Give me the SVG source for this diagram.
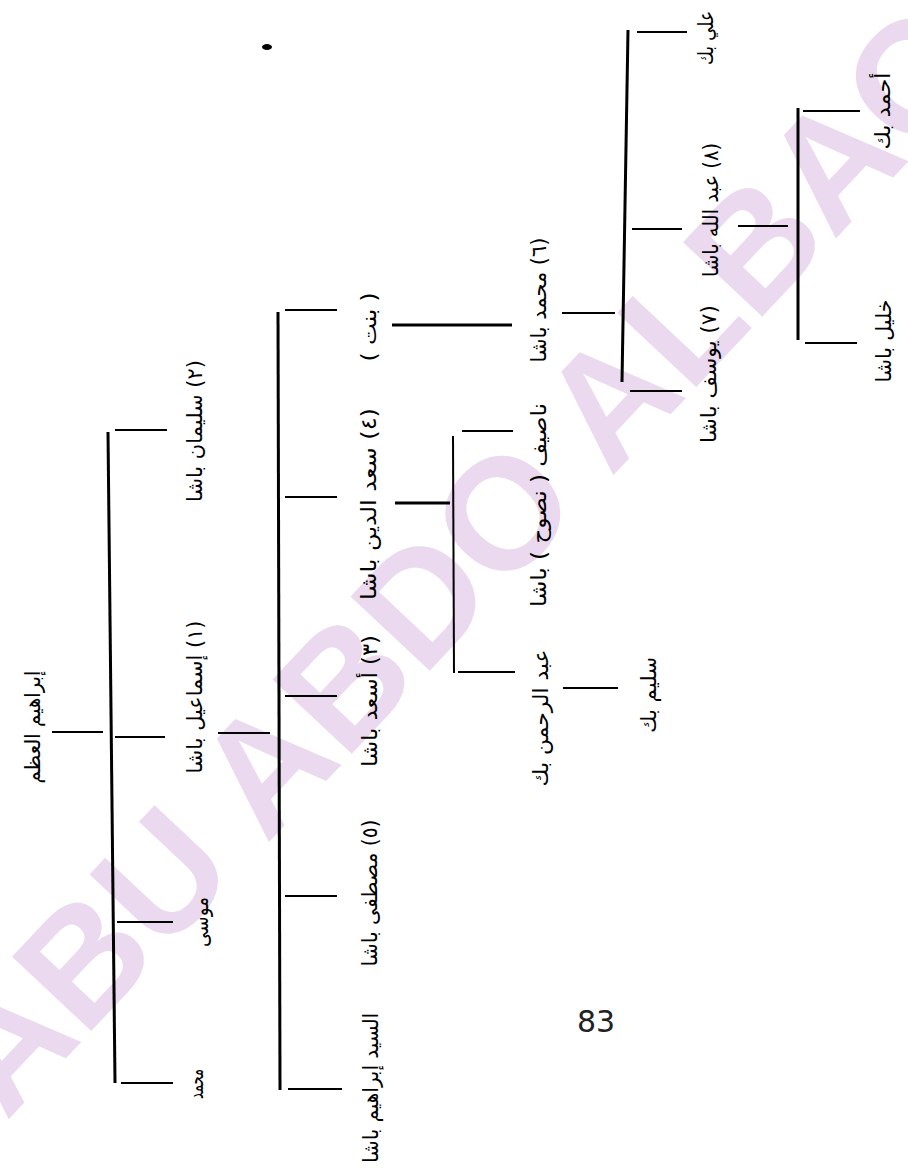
<svg xmlns="http://www.w3.org/2000/svg" width="908" height="1173" viewBox="0 0 908 1173">
<style>
.wm{font-family:"Liberation Sans",Arial,sans-serif;font-weight:bold;font-size:158px;fill:#ebdaef}
.lbl{font-family:"DejaVu Sans","Noto Sans",sans-serif;font-size:21px;fill:#000}
.ln{stroke:#000;stroke-width:2;fill:none}
.lv{stroke:#000;stroke-width:3;fill:none}
.pg{font-family:"DejaVu Sans",sans-serif;font-size:30px;fill:#222}
</style>
<rect width="908" height="1173" fill="#fff"/>
<text class="wm" transform="translate(6,1122) rotate(-46.8)">ABU ABDO ALBAQMI</text>
<ellipse cx="267" cy="47" rx="5" ry="3" fill="#000"/>
<g id="connectors">
<line class="ln" x1="52" y1="732" x2="103" y2="732"/>
<line class="lv" x1="108" y1="432" x2="115" y2="1083"/>
<line class="ln" x1="115" y1="430" x2="167" y2="430"/>
<line class="ln" x1="115" y1="737" x2="165" y2="737"/>
<line class="ln" x1="117" y1="922" x2="173" y2="922"/>
<line class="ln" x1="121" y1="1083" x2="173" y2="1083"/>
<line class="ln" x1="218" y1="733" x2="270" y2="733"/>
<line class="lv" x1="278" y1="312" x2="280" y2="1090"/>
<line class="ln" x1="285" y1="310" x2="337" y2="310"/>
<line class="ln" x1="285" y1="497" x2="337" y2="497"/>
<line class="ln" x1="285" y1="696" x2="337" y2="696"/>
<line class="ln" x1="285" y1="896" x2="337" y2="896"/>
<line class="ln" x1="288" y1="1089" x2="342" y2="1089"/>
<line class="lv" x1="392" y1="325" x2="512" y2="325"/>
<line class="lv" x1="395" y1="503" x2="450" y2="503"/>
<line class="ln" x1="453" y1="436" x2="454" y2="673"/>
<line class="ln" x1="462" y1="431" x2="513" y2="431"/>
<line class="ln" x1="458" y1="672" x2="515" y2="672"/>
<line class="ln" x1="563" y1="688" x2="618" y2="688"/>
<line class="ln" x1="562" y1="313" x2="615" y2="313"/>
<line class="lv" x1="628" y1="30" x2="622" y2="382"/>
<line class="ln" x1="637" y1="32" x2="687" y2="32"/>
<line class="ln" x1="632" y1="229" x2="682" y2="229"/>
<line class="ln" x1="630" y1="391" x2="682" y2="391"/>
<line class="ln" x1="738" y1="226" x2="788" y2="226"/>
<line class="lv" x1="798" y1="108" x2="798" y2="340"/>
<line class="ln" x1="803" y1="111" x2="860" y2="111"/>
<line class="ln" x1="805" y1="343" x2="857" y2="343"/>
</g>
<g id="n-ibrahim-azm"><text class="lbl" direction="rtl" text-anchor="middle" textLength="113" lengthAdjust="spacingAndGlyphs" transform="translate(40,727) rotate(-90)">إبراهيم العظم</text></g>
<g id="n-sulayman"><text class="lbl" direction="rtl" text-anchor="middle" textLength="142" lengthAdjust="spacingAndGlyphs" transform="translate(202,431) rotate(-90)">(٢) سليمان باشا</text></g>
<g id="n-ismail"><text class="lbl" direction="rtl" text-anchor="middle" textLength="153" lengthAdjust="spacingAndGlyphs" transform="translate(202,697) rotate(-90)">(١) إسماعيل باشا</text></g>
<g id="n-musa"><text class="lbl" direction="rtl" text-anchor="middle" textLength="50" lengthAdjust="spacingAndGlyphs" transform="translate(208,922) rotate(-90)">موسى</text></g>
<g id="n-muhammad"><text class="lbl" direction="rtl" text-anchor="middle" textLength="30" lengthAdjust="spacingAndGlyphs" transform="translate(203,1084) rotate(-90)">محمد</text></g>
<g id="n-bint"><text class="lbl" direction="rtl" text-anchor="middle" textLength="69" lengthAdjust="spacingAndGlyphs" transform="translate(376,327) rotate(-90)">( بنت )</text></g>
<g id="n-saad"><text class="lbl" direction="rtl" text-anchor="middle" textLength="192" lengthAdjust="spacingAndGlyphs" transform="translate(376,504) rotate(-90)">(٤) سعد الدين باشا</text></g>
<g id="n-asad"><text class="lbl" direction="rtl" text-anchor="middle" textLength="132" lengthAdjust="spacingAndGlyphs" transform="translate(377,701) rotate(-90)">(٣) أسعد باشا</text></g>
<g id="n-mustafa"><text class="lbl" direction="rtl" text-anchor="middle" textLength="147" lengthAdjust="spacingAndGlyphs" transform="translate(377,893) rotate(-90)">(٥) مصطفى باشا</text></g>
<g id="n-sayyid"><text class="lbl" direction="rtl" text-anchor="middle" textLength="150" lengthAdjust="spacingAndGlyphs" transform="translate(378,1088) rotate(-90)">السيد إبراهيم باشا</text></g>
<g id="n-muhammad-pasha"><text class="lbl" direction="rtl" text-anchor="middle" textLength="125" lengthAdjust="spacingAndGlyphs" transform="translate(546,300) rotate(-90)">(٦) محمد باشا</text></g>
<g id="n-nasif"><text class="lbl" direction="rtl" text-anchor="middle" textLength="204" lengthAdjust="spacingAndGlyphs" transform="translate(546,505) rotate(-90)">ناصيف ( نصوح ) باشا</text></g>
<g id="n-abdrahman"><text class="lbl" direction="rtl" text-anchor="middle" textLength="137" lengthAdjust="spacingAndGlyphs" transform="translate(548,718) rotate(-90)">عبد الرحمن بك</text></g>
<g id="n-salim"><text class="lbl" direction="rtl" text-anchor="middle" textLength="76" lengthAdjust="spacingAndGlyphs" transform="translate(656,695) rotate(-90)">سليم بك</text></g>
<g id="n-ali"><text class="lbl" direction="rtl" text-anchor="middle" textLength="54" lengthAdjust="spacingAndGlyphs" transform="translate(713,38) rotate(-90)">علي بك</text></g>
<g id="n-abdallah"><text class="lbl" direction="rtl" text-anchor="middle" textLength="134" lengthAdjust="spacingAndGlyphs" transform="translate(718,210) rotate(-90)">(٨) عبد الله باشا</text></g>
<g id="n-yusuf"><text class="lbl" direction="rtl" text-anchor="middle" textLength="138" lengthAdjust="spacingAndGlyphs" transform="translate(716,374) rotate(-90)">(٧) يوسف باشا</text></g>
<g id="n-ahmad"><text class="lbl" direction="rtl" text-anchor="middle" textLength="77" lengthAdjust="spacingAndGlyphs" transform="translate(890,111) rotate(-90)">أحمد بك</text></g>
<g id="n-khalil"><text class="lbl" direction="rtl" text-anchor="middle" textLength="83" lengthAdjust="spacingAndGlyphs" transform="translate(891,341) rotate(-90)">خليل باشا</text></g>
<text class="pg" x="596" y="1032" text-anchor="middle">83</text>
</svg>
